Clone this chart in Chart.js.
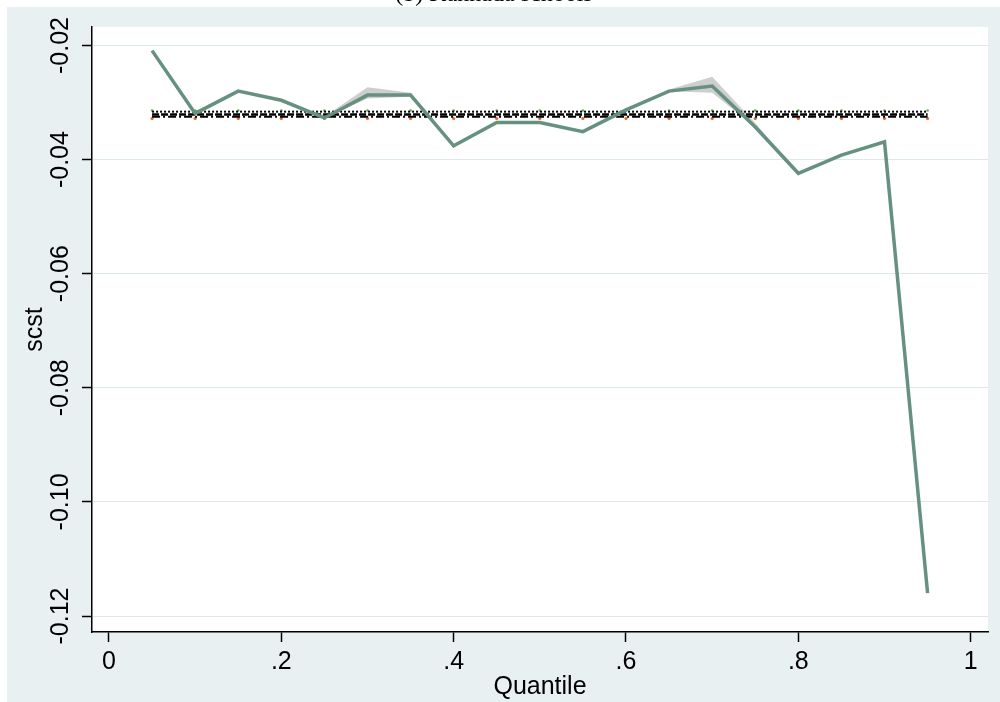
<!DOCTYPE html>
<html><head><meta charset="utf-8">
<script src="https://cdn.jsdelivr.net/npm/chart.js@4.4.1/dist/chart.umd.min.js"></script>
<style>
html,body{margin:0;padding:0;background:#fff;overflow:hidden;width:1000px;height:702px;position:relative;}
#wrap{position:absolute;left:0;top:-20px;width:1000px;height:722px;}
canvas{display:block;}
</style></head><body>
<div id="wrap"><canvas id="c" width="1000" height="722"></canvas></div>
<script>
const quantiles = [0.05,0.10,0.15,0.20,0.25,0.30,0.35,0.40,0.45,0.50,0.55,0.60,0.65,0.70,0.75,0.80,0.85,0.90,0.95];
const scst      = [-0.0209,-0.0319,-0.0280,-0.0296,-0.0327,-0.0287,-0.0287,-0.0376,-0.0335,-0.0335,-0.0351,-0.0313,-0.0280,-0.0271,-0.0343,-0.0424,-0.0392,-0.0369,-0.1160];
const bandUpper = [-0.0209,-0.0319,-0.0280,-0.0296,-0.0325,-0.0273,-0.0283,-0.0376,-0.0335,-0.0335,-0.0351,-0.0313,-0.0277,-0.0255,-0.0336,-0.0424,-0.0392,-0.0369,-0.1160];
const bandLower = [-0.0209,-0.0319,-0.0280,-0.0296,-0.0327,-0.0293,-0.0290,-0.0376,-0.0335,-0.0335,-0.0351,-0.0313,-0.0280,-0.0283,-0.0343,-0.0424,-0.0392,-0.0369,-0.1160];
const refX      = [0.05, 0.95];
const refDotted = [-0.0316, -0.0316];
const refDashed = [-0.0321, -0.0321];
const refDashDot= [-0.0325, -0.0325];
const orangeMarks = [-0.0328,-0.0328,-0.0328,-0.0328,-0.0328,-0.0328,-0.0328,-0.0328,-0.0328,-0.0328,-0.0328,-0.0328,-0.0328,-0.0328,-0.0328,-0.0328,-0.0328,-0.0328,-0.0328];
const greenMarks  = [-0.0314,-0.0314,-0.0314,-0.0314,-0.0314,-0.0314,-0.0314,-0.0314,-0.0314,-0.0314,-0.0314,-0.0314,-0.0314,-0.0314,-0.0314,-0.0314,-0.0314,-0.0314,-0.0314];
const xTickValues = [0, 0.2, 0.4, 0.6, 0.8, 1];
const xTickLabels = ['0', '.2', '.4', '.6', '.8', '1'];
const yTickValues = [-0.12, -0.10, -0.08, -0.06, -0.04, -0.02];
const yTickLabels = ['-0.12', '-0.10', '-0.08', '-0.06', '-0.04', '-0.02'];
const chartTitle = '(b) Kannada schools';
const xTitle = 'Quantile';
const yTitle = 'scst';

const pts = (xs, ys) => xs.map((x, i) => ({x: x, y: ys[i]}));

const bgPlugin = {
  id: 'bg',
  beforeDraw(chart) {
    const {ctx, chartArea: a} = chart;
    ctx.save();
    ctx.fillStyle = '#ffffff';
    ctx.fillRect(0, 0, chart.width, chart.height);
    ctx.fillStyle = '#e9f0f2';
    ctx.fillRect(7, 27, chart.width - 7, chart.height - 27);
    ctx.fillStyle = '#ffffff';
    ctx.fillRect(a.left, a.top, a.right - a.left, a.bottom - a.top);
    ctx.restore();
  }
};

const tickFont = {family: "'Liberation Sans', Arial, sans-serif", size: 25};

new Chart(document.getElementById('c'), {
  type: 'line',
  data: {
    datasets: [
      {label: 'upper', data: pts(quantiles, bandUpper), borderWidth: 0, pointRadius: 0,
       backgroundColor: 'rgba(190,190,190,0.75)', fill: '+1', order: 3},
      {label: 'lower', data: pts(quantiles, bandLower), borderWidth: 0, pointRadius: 0, fill: false, order: 3},
      {label: 'dotted', data: pts(refX, refDotted), borderColor: '#000', borderWidth: 2, borderDash: [2, 2], pointRadius: 0, fill: false, order: 2},
      {label: 'dashed', data: pts(refX, refDashed), borderColor: '#000', borderWidth: 2.5, borderDash: [7, 2], pointRadius: 0, fill: false, order: 2},
      {label: 'dashdot', data: pts(refX, refDashDot), borderColor: '#000', borderWidth: 2, borderDash: [8, 3, 2, 3], pointRadius: 0, fill: false, order: 2},
      {label: 'orange', data: pts(quantiles, orangeMarks), showLine: false, pointRadius: 1.6, pointBackgroundColor: '#e8642c', pointBorderWidth: 0, order: 2},
      {label: 'green', data: pts(quantiles, greenMarks), showLine: false, pointRadius: 1.3, pointBackgroundColor: '#6aa85a', pointBorderWidth: 0, order: 2},
      {label: 'scst', data: pts(quantiles, scst), borderColor: '#66907f', borderWidth: 3.5, pointRadius: 0, fill: false, tension: 0, order: 0}
    ]
  },
  options: {
    responsive: false,
    animation: false,
    devicePixelRatio: 1,
    layout: {padding: {left: 0, right: 12, top: 0, bottom: 0}},
    plugins: {
      legend: {display: false},
      tooltip: {enabled: false},
      title: {display: true, text: chartTitle, color: '#000',
              font: {family: "'Liberation Serif', 'Times New Roman', serif", size: 24, weight: 'normal'},
              padding: {top: 0, bottom: 18.2}}
    },
    scales: {
      x: {
        type: 'linear', min: -0.0197, max: 1.0201,
        afterBuildTicks: s => { s.ticks = xTickValues.map(v => ({value: v})); },
        afterFit: s => { s.height = 70; },
        ticks: {callback: v => xTickLabels[xTickValues.indexOf(v)], font: tickFont, color: '#000',
                padding: 5, maxRotation: 0, minRotation: 0, autoSkip: false},
        grid: {drawOnChartArea: false, tickLength: 10, tickColor: '#000', tickWidth: 1.5},
        border: {color: '#000', width: 1.5},
        title: {display: true, text: xTitle, font: tickFont, color: '#000', padding: {top: 0, bottom: 0}}
      },
      y: {
        type: 'linear', min: -0.1228, max: -0.01676,
        afterBuildTicks: s => { s.ticks = yTickValues.map(v => ({value: v})); },
        afterFit: s => { s.width = 92; },
        ticks: {callback: v => yTickLabels[yTickValues.indexOf(v)], font: tickFont, color: '#000',
                minRotation: 90, maxRotation: 90, crossAlign: 'center', padding: -8, autoSkip: false},
        grid: {color: '#dce8ec', lineWidth: 1, tickLength: 10, tickColor: '#000', tickWidth: 1.5},
        border: {color: '#000', width: 1.5},
        title: {display: true, text: yTitle, font: tickFont, color: '#000', padding: {top: 20, bottom: 0}}
      }
    }
  },
  plugins: [bgPlugin]
});
</script>
</body></html>
